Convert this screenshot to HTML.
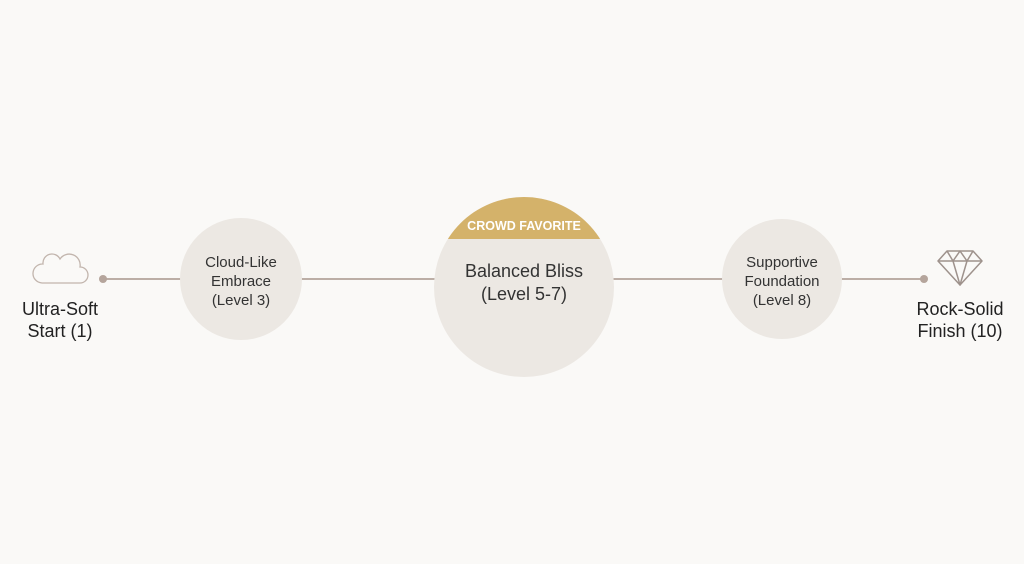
<!DOCTYPE html>
<html><head><style>
body{margin:0;width:1024px;height:559px;background:#faf9f7;font-family:"Liberation Sans",sans-serif;overflow:hidden}
</style></head><body>
<svg width="1024" height="559" viewBox="0 0 1024 559">
<defs><clipPath id="c"><circle cx="524" cy="287" r="90"/></clipPath></defs>
<line x1="103" y1="279" x2="924" y2="279" stroke="#bcaea6" stroke-width="2"/>
<circle cx="103" cy="279" r="4" fill="#b5a59c"/>
<circle cx="924" cy="279" r="4" fill="#b5a59c"/>
<circle cx="241" cy="279" r="61" fill="#ece8e3"/>
<circle cx="782" cy="279" r="60" fill="#ece8e3"/>
<circle cx="524" cy="287" r="90" fill="#ece8e3"/>
<rect x="430" y="190" width="190" height="49" fill="#d4b26a" clip-path="url(#c)"/>
<text x="524" y="230" text-anchor="middle" font-size="12.5" fill="#fff" style="font-weight:600">CROWD FAVORITE</text>
<text x="524" y="277" text-anchor="middle" font-size="18" fill="#333">Balanced Bliss</text>
<text x="524" y="300" text-anchor="middle" font-size="18" fill="#333">(Level 5-7)</text>
<g font-size="15" fill="#333" text-anchor="middle">
<text x="241" y="267">Cloud-Like</text><text x="241" y="286">Embrace</text><text x="241" y="305">(Level 3)</text>
<text x="782" y="267">Supportive</text><text x="782" y="286">Foundation</text><text x="782" y="305">(Level 8)</text>
</g>
<g font-size="18" fill="#222" text-anchor="middle">
<text x="60" y="315">Ultra-Soft</text><text x="60" y="337">Start (1)</text>
<text x="960" y="315">Rock-Solid</text><text x="960" y="337">Finish (10)</text>
</g>
<path d="M42 283 H80 a8 8 0 0 0 0 -16 a11 11 0 0 0 -20 -8 a9 9 0 0 0 -17 5 a9.5 9.5 0 0 0 -1 19 z" fill="none" stroke="#c2b5ad" stroke-width="1.3"/>
<g fill="none" stroke="#9e928c" stroke-width="1.5" stroke-linejoin="round">
<path d="M947 251 H973 L982 261 L960 285 L938 261 Z"/>
<path d="M938 261 H982 M947 251 L953 261 L960 251 L967 261 L973 251 M953 261 L960 285 L967 261"/>
</g>
</svg>
</body></html>
